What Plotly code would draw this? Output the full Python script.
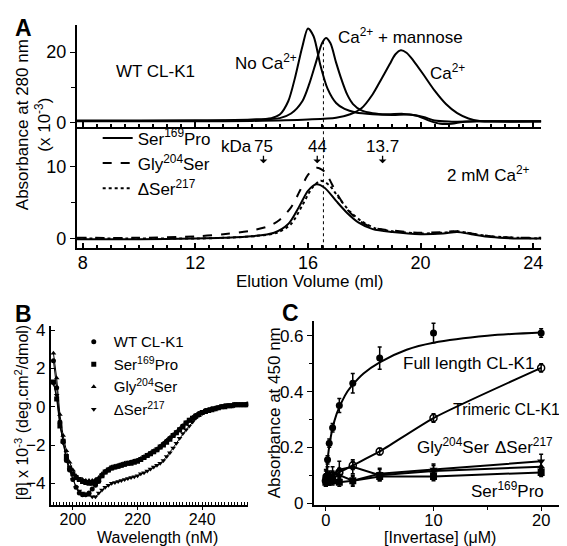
import plotly.graph_objects as go

FONT = "Arial, Liberation Sans, sans-serif"
W, H = 567, 546

# ---------------- Panel A data (elution profiles) ----------------
noca_x = [7.8, 10, 12, 13, 14, 14.7, 15.0, 15.3, 15.55, 15.8, 16.0, 16.2, 16.45, 16.7, 17.0, 17.3, 17.7, 18.3, 19.0, 19.6, 20.1, 20.5, 21.0, 22.0, 24.3]
noca_y = [0.5, 0.5, 0.5, 0.6, 0.8, 1.2, 2.2, 6.0, 13.0, 21.5, 26.7, 24.5, 16.0, 9.5, 5.5, 3.8, 2.8, 2.3, 2.1, 2.2, 1.5, 0.5, 0.2, 0.3, 0.3]

man_x = [7.8, 10, 12, 14, 15.0, 15.4, 15.8, 16.05, 16.3, 16.5, 16.64, 16.8, 17.0, 17.2, 17.4, 17.6, 17.9, 18.3, 18.8, 19.4, 19.9, 20.3, 20.7, 21.1, 21.5, 22.0, 24.3]
man_y = [0.4, 0.4, 0.5, 0.6, 1.2, 2.5, 6.0, 11.0, 17.5, 22.5, 24.0, 22.5, 17.0, 12.0, 7.8, 5.2, 3.4, 2.6, 2.3, 2.4, 1.8, 0.5, -0.4, -0.4, 0.1, 0.3, 0.3]

ca_x = [7.8, 10, 12, 14, 16, 17.0, 17.5, 17.9, 18.3, 18.6, 18.9, 19.1, 19.3, 19.5, 19.75, 20.1, 20.5, 20.9, 21.3, 21.7, 22.1, 22.6, 24.3]
ca_y = [0.3, 0.3, 0.3, 0.4, 0.8, 1.3, 2.3, 4.0, 8.0, 12.2, 16.5, 19.3, 20.5, 19.8, 17.5, 13.6, 9.0, 5.2, 2.6, 1.1, 0.4, 0.2, 0.2]

s169_x = [7.8, 10, 12, 13, 14, 14.8, 15.3, 15.7, 16.0, 16.3, 16.6, 17.0, 17.4, 17.8, 18.3, 19.0, 20.0, 20.8, 21.3, 21.8, 22.5, 23.5, 24.3]
s169_y = [-0.1, -0.1, 0.0, 0.1, 0.3, 0.8, 2.0, 4.5, 6.6, 7.5, 7.0, 5.2, 3.5, 2.2, 1.3, 0.9, 0.6, 0.7, 0.9, 0.6, 0.2, 0.0, 0.0]

g204_x = [7.8, 10, 12, 13, 14, 14.6, 15.0, 15.4, 15.7, 16.0, 16.3, 16.6, 17.0, 17.4, 17.8, 18.3, 19.0, 20.0, 20.8, 21.3, 21.8, 22.5, 23.5, 24.3]
g204_y = [0.1, 0.1, 0.3, 0.6, 1.1, 1.7, 2.6, 4.3, 6.5, 8.8, 9.8, 9.2, 6.4, 4.0, 2.5, 1.5, 1.1, 0.8, 0.9, 1.0, 0.7, 0.3, 0.1, 0.1]

d217_x = [7.8, 10, 12, 13, 14, 14.9, 15.4, 15.8, 16.15, 16.45, 16.75, 17.1, 17.5, 17.9, 18.4, 19.0, 20.0, 20.8, 21.3, 21.8, 22.5, 23.5, 24.3]
d217_y = [0.0, 0.0, 0.0, 0.1, 0.3, 0.8, 2.0, 4.6, 7.0, 8.0, 7.4, 5.6, 3.7, 2.4, 1.4, 1.0, 0.7, 0.8, 1.0, 0.7, 0.3, 0.1, 0.0]

marker_kda = ["75", "44", "13.7"]
marker_vol = [14.42, 16.33, 18.65]
ref_line_x = 16.55

# ---------------- Panel B data (CD spectra) ----------------
wl = list(range(194, 255))
cd_wt = [2.4, 1.0, -0.8, -1.8, -2.8, -3.3, -3.8, -4.2, -4.5, -4.6, -4.6, -4.5, -4.3, -4.1, -3.9, -3.6,
         -3.4, -3.3, -3.2, -3.15, -3.1, -3.05, -3.0, -2.95, -2.9, -2.85, -2.8, -2.75, -2.65, -2.55, -2.45,
         -2.35, -2.25, -2.1, -1.95, -1.8, -1.65, -1.5, -1.35, -1.2, -1.0, -0.85, -0.7, -0.6, -0.45, -0.35,
         -0.3, -0.2, -0.15, -0.1, -0.1, -0.05, 0.0, 0.05, 0.05, 0.05, 0.1, 0.1, 0.1, 0.1, 0.15]
cd_s169 = [1.3, 0.4, -1.0, -1.8, -2.6, -3.2, -3.5, -3.7, -3.8, -3.9, -3.95, -4.0, -4.0, -3.95, -3.8, -3.6,
           -3.4, -3.3, -3.2, -3.15, -3.1, -3.05, -3.0, -2.95, -2.95, -2.9, -2.85, -2.75, -2.65, -2.55, -2.45,
           -2.35, -2.25, -2.1, -2.0, -1.85, -1.7, -1.5, -1.35, -1.2, -1.05, -0.85, -0.7, -0.6, -0.5, -0.4,
           -0.3, -0.25, -0.2, -0.15, -0.1, -0.05, 0.0, 0.0, 0.05, 0.05, 0.1, 0.1, 0.1, 0.1, 0.1]
cd_g204 = [2.8, 1.5, -0.4, -1.5, -2.3, -2.9, -3.3, -3.6, -3.8, -3.8, -3.85, -3.85, -3.85, -3.8, -3.7, -3.5,
           -3.35, -3.25, -3.15, -3.1, -3.05, -3.0, -2.95, -2.95, -2.9, -2.85, -2.8, -2.7, -2.6, -2.5, -2.4,
           -2.3, -2.2, -2.05, -1.9, -1.75, -1.6, -1.45, -1.3, -1.15, -1.0, -0.85, -0.7, -0.55, -0.45, -0.35,
           -0.3, -0.2, -0.15, -0.1, -0.05, -0.05, 0.0, 0.0, 0.05, 0.05, 0.1, 0.1, 0.1, 0.1, 0.1]
cd_d217 = [1.2, 0.6, -0.9, -1.9, -2.8, -3.3, -3.8, -4.2, -4.4, -4.5, -4.6, -4.6, -4.7, -4.7, -4.5, -4.35,
           -4.2, -4.1, -4.0, -3.95, -3.9, -3.85, -3.8, -3.75, -3.7, -3.65, -3.6, -3.5, -3.45, -3.35, -3.25,
           -3.15, -3.05, -2.95, -2.8, -2.6, -2.4, -2.15, -1.9, -1.65, -1.4, -1.2, -1.0, -0.8, -0.6, -0.45,
           -0.35, -0.25, -0.2, -0.15, -0.1, -0.05, 0.0, 0.0, 0.05, 0.05, 0.05, 0.1, 0.1, 0.1, 0.1]

# ---------------- Panel C data (invertase binding) ----------------
conc = [0, 0.156, 0.3125, 0.625, 1.25, 2.5, 5, 10, 20]
full_y = [0.095, 0.155, 0.215, 0.27, 0.35, 0.43, 0.52, 0.61, 0.61]
full_err = [0.02, 0.015, 0.015, 0.015, 0.025, 0.035, 0.04, 0.035, 0.015]
fit_x = [0, 0.15, 0.3, 0.6, 1.0, 1.5, 2.0, 2.5, 3.5, 5, 7.5, 10, 15, 20]
fit_y = [0.08, 0.15, 0.2, 0.265, 0.32, 0.365, 0.4, 0.425, 0.465, 0.505, 0.55, 0.575, 0.6, 0.612]
tri_y = [0.08, 0.09, 0.09, 0.1, 0.11, 0.135, 0.185, 0.305, 0.485]
tri_err = [0.02, 0.015, 0.015, 0.015, 0.015, 0.015, 0.012, 0.015, 0.015]
g204c_y = [0.09, 0.1, 0.09, 0.1, 0.12, 0.13, 0.1, 0.115, 0.13]
g204c_err = [0.03, 0.03, 0.025, 0.03, 0.03, 0.025, 0.02, 0.02, 0.02]
d217c_y = [0.085, 0.09, 0.085, 0.09, 0.1, 0.08, 0.105, 0.12, 0.15]
d217c_err = [0.02, 0.02, 0.02, 0.02, 0.02, 0.02, 0.02, 0.02, 0.025]
s169c_y = [0.075, 0.08, 0.08, 0.08, 0.075, 0.08, 0.095, 0.095, 0.11]
s169c_err = [0.015, 0.015, 0.015, 0.015, 0.015, 0.015, 0.015, 0.015, 0.015]


def px_x(p):
    return p / W


def px_y(p):
    return (H - p) / H


fig = go.Figure()
BLK = "black"

# Panel A top
for xs, ys in [(noca_x, noca_y), (man_x, man_y), (ca_x, ca_y)]:
    fig.add_trace(go.Scatter(x=xs, y=ys, mode="lines", xaxis="x", yaxis="y", showlegend=False,
                             line=dict(color=BLK, width=2, shape="spline", smoothing=0.8)))
# Panel A bottom
for xs, ys, nm, dash in [(s169_x, s169_y, "Ser<sup>169</sup>Pro", "solid"),
                         (g204_x, g204_y, "Gly<sup>204</sup>Ser", "dash"),
                         (d217_x, d217_y, "ΔSer<sup>217</sup>", "dot")]:
    fig.add_trace(go.Scatter(x=xs, y=ys, mode="lines", xaxis="x2", yaxis="y2", name=nm, legend="legend",
                             line=dict(color=BLK, width=2, dash=dash, shape="spline", smoothing=0.8)))

# Panel B
for ys, nm, sym in [(cd_wt, "WT CL-K1", "circle"), (cd_s169, "Ser<sup>169</sup>Pro", "square"),
                    (cd_g204, "Gly<sup>204</sup>Ser", "triangle-up"), (cd_d217, "ΔSer<sup>217</sup>", "triangle-down")]:
    fig.add_trace(go.Scatter(x=wl, y=ys, mode="lines", xaxis="x3", yaxis="y3", showlegend=False,
                             line=dict(color=BLK, width=1)))
    fig.add_trace(go.Scatter(x=wl, y=ys, mode="markers", xaxis="x3", yaxis="y3", name=nm, legend="legend2",
                             marker=dict(symbol=sym, size=5, color=BLK)))

# Panel C
fig.add_trace(go.Scatter(x=fit_x, y=fit_y, mode="lines", xaxis="x4", yaxis="y4", showlegend=False,
                         line=dict(color=BLK, width=2, shape="spline", smoothing=1.0)))
fig.add_trace(go.Scatter(x=conc, y=tri_y, mode="lines+markers", xaxis="x4", yaxis="y4", showlegend=False,
                         line=dict(color=BLK, width=2, shape="spline", smoothing=0.6),
                         marker=dict(symbol="circle-open", size=7, color=BLK, line=dict(width=1.5)),
                         error_y=dict(type="data", array=tri_err, color=BLK, thickness=1.5, width=2)))
for ys, errs, sym in [(g204c_y, g204c_err, "triangle-up"), (d217c_y, d217c_err, "triangle-down"),
                      (s169c_y, s169c_err, "square")]:
    fig.add_trace(go.Scatter(x=conc, y=ys, mode="lines+markers", xaxis="x4", yaxis="y4", showlegend=False,
                             line=dict(color=BLK, width=2),
                             marker=dict(symbol=sym, size=7, color=BLK),
                             error_y=dict(type="data", array=errs, color=BLK, thickness=1.5, width=2)))
fig.add_trace(go.Scatter(x=conc, y=full_y, mode="markers", xaxis="x4", yaxis="y4", showlegend=False,
                         marker=dict(symbol="circle", size=7, color=BLK),
                         error_y=dict(type="data", array=full_err, color=BLK, thickness=1.5, width=2)))


def axis_common(size):
    return dict(showline=True, linecolor=BLK, linewidth=2, showgrid=False, zeroline=False,
                tickcolor=BLK, tickfont=dict(family=FONT, size=size, color=BLK))


xA = [px_x(69), px_x(535)]
fig.update_layout(
    xaxis=dict(domain=xA, range=[7.79, 24.28], anchor="y", ticks="inside", ticklen=5, tickwidth=1.5,
               tickvals=[8, 12, 16, 20, 24], showticklabels=False,
               minor=dict(dtick=0.5, tick0=8, ticks="inside", ticklen=3, tickcolor=BLK), **axis_common(18)),
    yaxis=dict(domain=[px_y(117), px_y(12)], range=[-1.39, 27.78], anchor="x", ticks="outside", ticklen=5,
               tickvals=[0, 20], minor=dict(tickvals=[10], ticks="outside", ticklen=4, tickcolor=BLK),
               **axis_common(18)),
    xaxis2=dict(domain=xA, range=[7.79, 24.28], anchor="y2", ticks="inside", ticklen=5, tickwidth=1.5,
                tickvals=[8, 12, 16, 20, 24], ticklabelstandoff=-3,
                minor=dict(dtick=0.5, tick0=8, ticks="inside", ticklen=3, tickcolor=BLK), **axis_common(18)),
    yaxis2=dict(domain=[px_y(241), px_y(118)], range=[-1.35, 15.27], anchor="x2", ticks="outside", ticklen=5,
                tickvals=[0, 10], minor=dict(tickvals=[5], ticks="outside", ticklen=4, tickcolor=BLK),
                **axis_common(18)),
    xaxis3=dict(domain=[px_x(43), px_x(241)], range=[193.2, 254.2], anchor="y3", ticks="outside", ticklen=3,
                tickvals=[200, 220, 240], ticklabelstandoff=-4,
                minor=dict(dtick=1, tick0=200, ticks="inside", ticklen=3, tickcolor=BLK), **axis_common(16)),
    yaxis3=dict(domain=[px_y(504), px_y(321)], range=[-5.13, 4.2], anchor="x3", ticks="inside", ticklen=4,
                tickvals=[-4, -2, 0, 2, 4], **axis_common(17)),
    xaxis4=dict(domain=[px_x(307), px_x(560)], range=[-1.11, 22.31], anchor="y4", ticks="outside", ticklen=4,
                tickvals=[0, 10, 20], ticklabelstandoff=-5,
                minor=dict(tickvals=[5, 15], ticks="outside", ticklen=3, tickcolor=BLK),
                **axis_common(16.5)),
    yaxis4=dict(domain=[px_y(504), px_y(315)], range=[-0.007, 0.655], anchor="x4", ticks="outside", ticklen=5,
                tickvals=[0, 0.2, 0.4, 0.6], ticktext=["0", "0.2", "0.4", "0.6"],
                minor=dict(tickvals=[0.1, 0.3, 0.5], ticks="outside", ticklen=3, tickcolor=BLK),
                **axis_common(17)),
)

fig.update_layout(
    width=W, height=H, margin=dict(l=0, r=0, t=0, b=0),
    paper_bgcolor="white", plot_bgcolor="white",
    font=dict(family=FONT, size=16, color=BLK),
    legend=dict(x=px_x(90), y=px_y(110), xanchor="left", yanchor="top", bgcolor="rgba(0,0,0,0)",
                font=dict(family=FONT, size=17), itemwidth=30, tracegroupgap=0),
    legend2=dict(x=px_x(66), y=px_y(320), xanchor="left", yanchor="top", bgcolor="rgba(0,0,0,0)",
                 font=dict(family=FONT, size=15), itemwidth=30, tracegroupgap=0),
)

# dotted reference line through panel A
fig.add_shape(type="line", xref="x", yref="paper", x0=ref_line_x, x1=ref_line_x,
              y0=px_y(241), y1=px_y(27), line=dict(color=BLK, width=1, dash="dot"))

ann = []


def A(text, x, y, xref="paper", yref="paper", size=16, xanchor="center", yanchor="middle", **kw):
    d = dict(text=text, x=x, y=y, xref=xref, yref=yref, showarrow=False, xanchor=xanchor, yanchor=yanchor,
             font=dict(family=FONT, size=size, color=BLK))
    d.update(kw)
    ann.append(d)


# panel letters
A("<b>A</b>", px_x(16), px_y(15), size=23)
A("<b>B</b>", px_x(16), px_y(308), size=23)
A("<b>C</b>", px_x(284), px_y(307), size=23)

# panel A labels
A("WT CL-K1", 10.6, 14.4, "x", "y", size=17)
A("No Ca<sup>2+</sup>", 14.5, 17.2, "x", "y", size=17)
A("Ca<sup>2+</sup> + mannose", 19.3, 24.6, "x", "y", size=17)
A("Ca<sup>2+</sup>", 20.95, 14.4, "x", "y", size=17)
A("2 mM Ca<sup>2+</sup>", 22.4, 8.9, "x2", "y2", size=17)
A("kDa", 14.08, 12.7, "x2", "y2", size=17, xanchor="right")
for lab, v in zip(marker_kda, marker_vol):
    A(lab, v, 12.7, "x2", "y2", size=17)
    ann.append(dict(x=v, y=10.4, xref="x2", yref="y2", ax=0, ay=-9, showarrow=True, arrowhead=1,
                    arrowsize=1, arrowwidth=1.3, arrowcolor=BLK, text=""))

# axis titles
A("Absorbance at 280 nm<br>(x 10<sup>-3</sup>)", px_x(25), px_y(114), size=17, textangle=-90)
A("Elution Volume (ml)", px_x(303), px_y(275), size=17)
A("[θ] x 10<sup>-3</sup> (deg.cm<sup>2</sup>/dmol)", px_x(14), px_y(409), size=16, textangle=-90)
A("Wavelength (nM)", px_x(150), px_y(537), size=16)
A("Absorbance at 450 nm", px_x(267), px_y(410), size=17, textangle=-90)
A("[Invertase] (μM)", px_x(434), px_y(537), size=16)

# panel C labels
A("Full length CL-K1", 13.24, 0.50, "x4", "y4", size=17)
A("Trimeric CL-K1", px_x(556), 0.336, "paper", "y4", size=16, xanchor="right")
A("Gly<sup>204</sup>Ser", 11.85, 0.205, "x4", "y4", size=17)
A("ΔSer<sup>217</sup>", 18.4, 0.205, "x4", "y4", size=17)
A("Ser<sup>169</sup>Pro", 16.85, 0.048, "x4", "y4", size=17)

fig.update_layout(annotations=ann)
fig.write_html("out.html")
